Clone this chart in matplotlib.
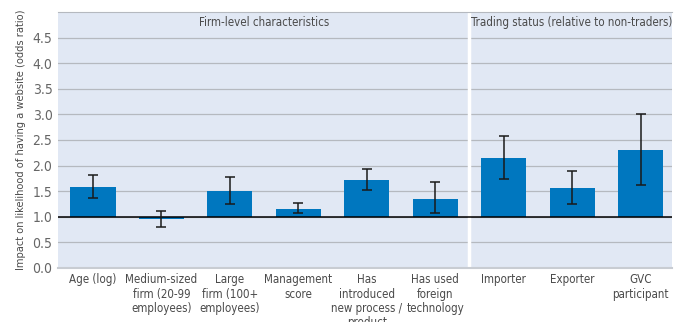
import matplotlib.pyplot as plt

labels = ['Age (log)', 'Medium-sized\nfirm (20-99\nemployees)', 'Large\nfirm (100+\nemployees)',
          'Management\nscore', 'Has\nintroduced\nnew process /\nproduct', 'Has used\nforeign\ntechnology',
          'Importer', 'Exporter', 'GVC\nparticipant']
odds = [1.58, 0.95, 1.50, 1.15, 1.72, 1.35, 2.15, 1.57, 2.31]
ci_low = [1.37, 0.79, 1.24, 1.08, 1.52, 1.07, 1.74, 1.24, 1.62]
ci_high = [1.81, 1.11, 1.77, 1.27, 1.94, 1.67, 2.57, 1.90, 3.01]
groups = ['Firm-level characteristics', 'Trading status (relative to non-traders)']

plt.rcParams['font.family'] = ['DejaVu Sans']
plt.rcParams['font.stretch'] = 'condensed'
grey = '#4a4a4a'

fig = plt.figure(figsize=(6.83, 3.22), dpi=100)
ax = fig.add_axes([0.085, 0.168, 0.899, 0.795])
ax.set_facecolor('#e1e8f4')

x = list(range(len(odds)))
heights = [v - 1 for v in odds]
ax.bar(x, heights, bottom=1, width=0.66, color='#0077bf', zorder=3)
yerr = [[o - l for o, l in zip(odds, ci_low)], [h - o for o, h in zip(odds, ci_high)]]
ax.errorbar(x, odds, yerr=yerr, fmt='none', ecolor='#1a1a1a', elinewidth=1.1, capsize=3.5, capthick=1.1, zorder=4)

ax.axhline(1.0, color='black', lw=1.1, zorder=3.5)
ax.axvline(5.5, color='white', lw=2.5, zorder=2)

ax.set_xlim(-0.51, 8.46)
ax.set_ylim(0, 5.0)
ax.set_yticks([0, 0.5, 1.0, 1.5, 2.0, 2.5, 3.0, 3.5, 4.0, 4.5])
ax.set_yticklabels(['0.0', '0.5', '1.0', '1.5', '2.0', '2.5', '3.0', '3.5', '4.0', '4.5'])
ax.yaxis.grid(True, color='#b5b9bf', lw=0.9, zorder=1)
ax.set_axisbelow(True)
ax.set_xticks(x)
ax.set_xticklabels(labels, fontsize=8.3, color=grey, linespacing=1.12, va='top')
ax.tick_params(axis='x', length=0, pad=4)
ax.tick_params(axis='y', length=0, labelsize=10, labelcolor='#666666', pad=4)
ax.set_ylabel('Impact on likelihood of having a website (odds ratio)', fontsize=7.9, color=grey, labelpad=5)

for s in ['left', 'right']:
    ax.spines[s].set_visible(False)
ax.spines['top'].set_color('#b5b9bf')
ax.spines['bottom'].set_color('#c8ccd2')
ax.spines['bottom'].set_linewidth(1.5)

ax.text(2.5, 4.8, groups[0], ha='center', va='center', fontsize=8.3, color=grey)
ax.text(7.0, 4.8, groups[1], ha='center', va='center', fontsize=8.3, color=grey)

fig.savefig('out.png', dpi=100)
